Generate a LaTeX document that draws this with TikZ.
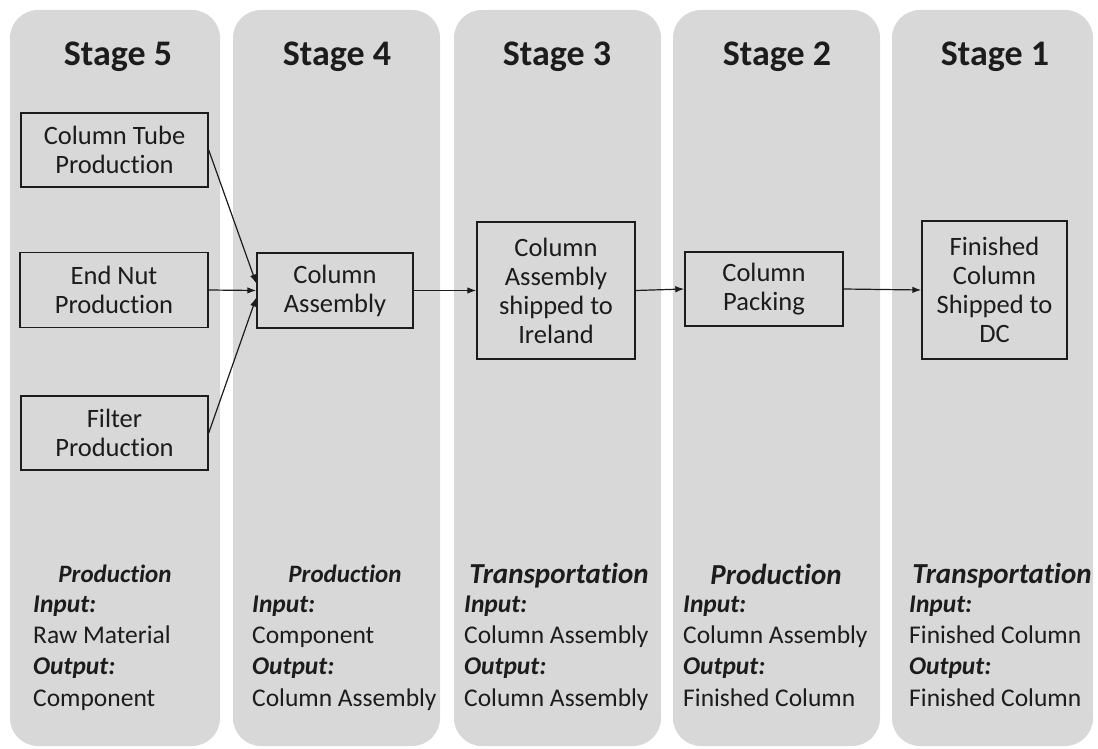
\documentclass[tikz,border=0pt]{standalone}
\usepackage{fontspec}
\setmainfont{Carlito}[Ligatures=NoCommon]
\usetikzlibrary{arrows.meta}
\definecolor{colbg}{RGB}{216,216,216}
\definecolor{ink}{RGB}{28,28,28}
\begin{document}
\begin{tikzpicture}[x=1pt,y=-1pt,
  column/.style={fill=colbg, rounded corners=28pt},
  stagetitle/.style={anchor=base, inner sep=0pt, text=ink, font=\fontsize{36}{42}\selectfont\bfseries},
  procbox/.style={draw=ink, line width=1.4pt, align=center, inner sep=0pt, text=ink,
    font=\fontsize{26.5}{29}\selectfont},
  arr/.style={draw=ink, line width=1.2pt, -{Latex[length=9pt,width=6.5pt]}},
  head/.style={anchor=base, inner sep=0pt, text=ink, font=\fontsize{25}{30}\selectfont\bfseries\itshape},
  headbig/.style={anchor=base, inner sep=0pt, text=ink, font=\fontsize{29}{34}\selectfont\bfseries\itshape},
  lab/.style={anchor=base west, inner sep=0pt, text=ink, font=\fontsize{25.5}{30}\selectfont\bfseries\itshape},
  val/.style={anchor=base west, inner sep=0pt, text=ink, font=\fontsize{25.5}{30}\selectfont}
]
\useasboundingbox (0,0) rectangle (1098,749);
\fill[white] (0,0) rectangle (1098,749);

% stage columns
\fill[column] (10,10) rectangle (220,746);
\fill[column] (233,10) rectangle (440,746);
\fill[column] (454,10) rectangle (661,746);
\fill[column] (673,10) rectangle (880,746);
\fill[column] (892,10) rectangle (1093,746);

% titles
\node[stagetitle] (t5) at (118,66) {Stage 5};
\node[stagetitle] (t4) at (337,66) {Stage 4};
\node[stagetitle] (t3) at (557,66) {Stage 3};
\node[stagetitle] (t2) at (777,66) {Stage 2};
\node[stagetitle] (t1) at (995,66) {Stage 1};

% process boxes
\node[procbox, minimum width=187pt, minimum height=74pt] (tube) at (114.5,150) {Column Tube\\Production};
\node[procbox, minimum width=188pt, minimum height=75pt] (endnut) at (114,290) {End Nut\\Production};
\node[procbox, minimum width=187pt, minimum height=74pt] (filter) at (114.5,433) {Filter\\Production};
\node[procbox, minimum width=156pt, minimum height=75pt] (ca) at (335,290.5) {Column\\Assembly};
\node[procbox, minimum width=158pt, minimum height=137pt] (ireland) at (556,290.5) {Column\\Assembly\\shipped to\\Ireland};
\node[procbox, minimum width=158pt, minimum height=74pt] (packing) at (764,289) {Column\\Packing};
\node[procbox, minimum width=145pt, minimum height=138pt] (dc) at (994.5,290) {Finished\\Column\\Shipped to\\DC};

% connectors
\draw[arr] (tube.east) -- ([yshift=7pt]ca.west);
\draw[arr] (endnut.east) -- (ca.west);
\draw[arr] (filter.east) -- ([yshift=-7pt]ca.west);
\draw[arr] (ca.east) -- (ireland.west);
\draw[arr] (ireland.east) -- (packing.west);
\draw[arr] (packing.east) -- (dc.west);

% bottom descriptions
\node[head] (h5) at (115,582) {Production};
\node[lab] (i5) at (33,612) {Input:};
\node[val] (v5a) at (33,643) {Raw Material};
\node[lab] (o5) at (33,674) {Output:};
\node[val] (v5b) at (33,706) {Component};

\node[head] (h4) at (345,582) {Production};
\node[lab] (i4) at (252,612) {Input:};
\node[val] (v4a) at (252,643) {Component};
\node[lab] (o4) at (252,674) {Output:};
\node[val] (v4b) at (252,706) {Column Assembly};

\node[headbig] (h3) at (559,583) {Transportation};
\node[lab] (i3) at (464,612) {Input:};
\node[val] (v3a) at (464,643) {Column Assembly};
\node[lab] (o3) at (464,674) {Output:};
\node[val] (v3b) at (464,706) {Column Assembly};

\node[headbig] (h2) at (776,584) {Production};
\node[lab] (i2) at (683,612) {Input:};
\node[val] (v2a) at (683,643) {Column Assembly};
\node[lab] (o2) at (683,674) {Output:};
\node[val] (v2b) at (683,706) {Finished Column};

\node[headbig] (h1) at (1002,583) {Transportation};
\node[lab] (i1) at (909,612) {Input:};
\node[val] (v1a) at (909,643) {Finished Column};
\node[lab] (o1) at (909,674) {Output:};
\node[val] (v1b) at (909,706) {Finished Column};
\end{tikzpicture}
\end{document}
